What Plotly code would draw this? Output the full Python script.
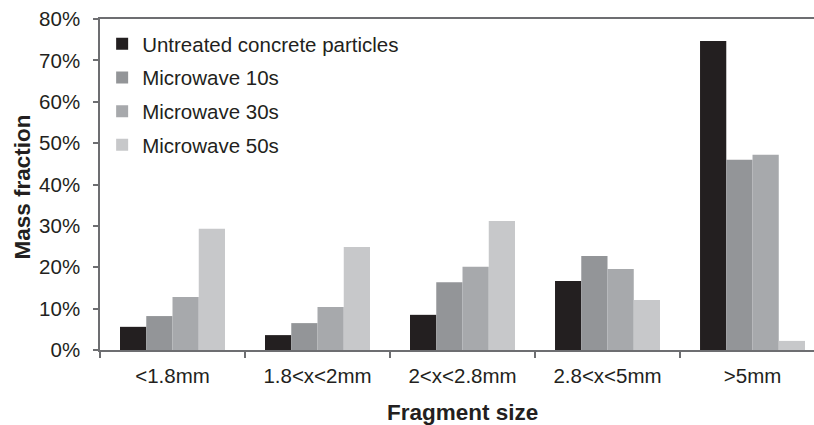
import plotly.graph_objects as go

categories = ["<1.8mm", "1.8<x<2mm", "2<x<2.8mm", "2.8<x<5mm", ">5mm"]
series_names = ["Untreated concrete particles", "Microwave 10s", "Microwave 30s", "Microwave 50s"]
untreated = [5.6, 3.6, 8.5, 16.7, 74.7]
mw10 = [8.2, 6.5, 16.4, 22.7, 46.0]
mw30 = [12.8, 10.4, 20.1, 19.6, 47.2]
mw50 = [29.3, 24.9, 31.2, 12.1, 2.2]
y_ticks = [0, 10, 20, 30, 40, 50, 60, 70, 80]
y_tick_labels = ["0%", "10%", "20%", "30%", "40%", "50%", "60%", "70%", "80%"]

colors = ["#231F20", "#939598", "#A7A9AC", "#C7C8CA"]
values = [untreated, mw10, mw30, mw50]

W, H = 814, 425
ml, mr, mt, mb = 100, 0, 19, 75
pw = W - ml - mr
ph = H - mt - mb
txt = "#231F20"
font_family = "Liberation Sans, Arial, sans-serif"
fs = 20.5

fig = go.Figure()
for i, (name, vals) in enumerate(zip(series_names, values)):
    fig.add_trace(go.Bar(
        x=categories, y=vals, name=name, marker=dict(color=colors[i], line=dict(width=0)),
        legendgroup=f"g{i}",
    ))

fig.update_layout(
    width=W, height=H,
    margin=dict(l=ml, r=mr, t=mt, b=mb, pad=0, autoexpand=False),
    paper_bgcolor="white", plot_bgcolor="white",
    barmode="group", bargap=0.276, bargroupgap=0,
    font=dict(family=font_family, size=fs, color=txt),
    showlegend=True,
    legend=dict(
        x=0.003, y=1 - 5 / ph, xanchor="left", yanchor="top",
        font=dict(size=fs, color=txt), bgcolor="rgba(0,0,0,0)",
        traceorder="grouped", tracegroupgap=4,
    ),
    xaxis=dict(
        type="category", range=[-0.5, 4.424], automargin=False,
        showline=True, linecolor="#6D6E71", linewidth=1.5, mirror=True,
        ticks="outside", tickson="boundaries", ticklen=6, tickcolor="#6D6E71", tickwidth=1.5,
        ticklabelstandoff=7, ticklabeloverflow="allow",
        showgrid=False, zeroline=False,
        tickfont=dict(size=fs, color=txt),
    ),
    yaxis=dict(
        range=[0, 80], tickvals=y_ticks, ticktext=y_tick_labels, automargin=False,
        showline=True, linecolor="#6D6E71", linewidth=1.5,
        ticks="outside", ticklen=5, tickcolor="#6D6E71", tickwidth=1.5,
        ticklabelstandoff=9, ticklabeloverflow="allow",
        showgrid=False, zeroline=False,
        tickfont=dict(size=fs, color=txt),
    ),
    annotations=[
        dict(text="<b>Fragment size</b>", xref="paper", yref="paper",
             x=362.5 / pw, y=-62 / ph,
             xanchor="center", yanchor="middle", showarrow=False,
             font=dict(size=22.5, color=txt)),
        dict(text="<b>Mass fraction</b>", xref="paper", yref="paper",
             x=-78 / pw, y=1 - 168.5 / ph,
             xanchor="center", yanchor="middle", showarrow=False, textangle=-90,
             font=dict(size=22.5, color=txt)),
    ],
)

fig.write_html(
    "out.html",
    config={"displayModeBar": False},
    post_script="document.body.style.margin='0';document.body.style.overflow='hidden';",
)
